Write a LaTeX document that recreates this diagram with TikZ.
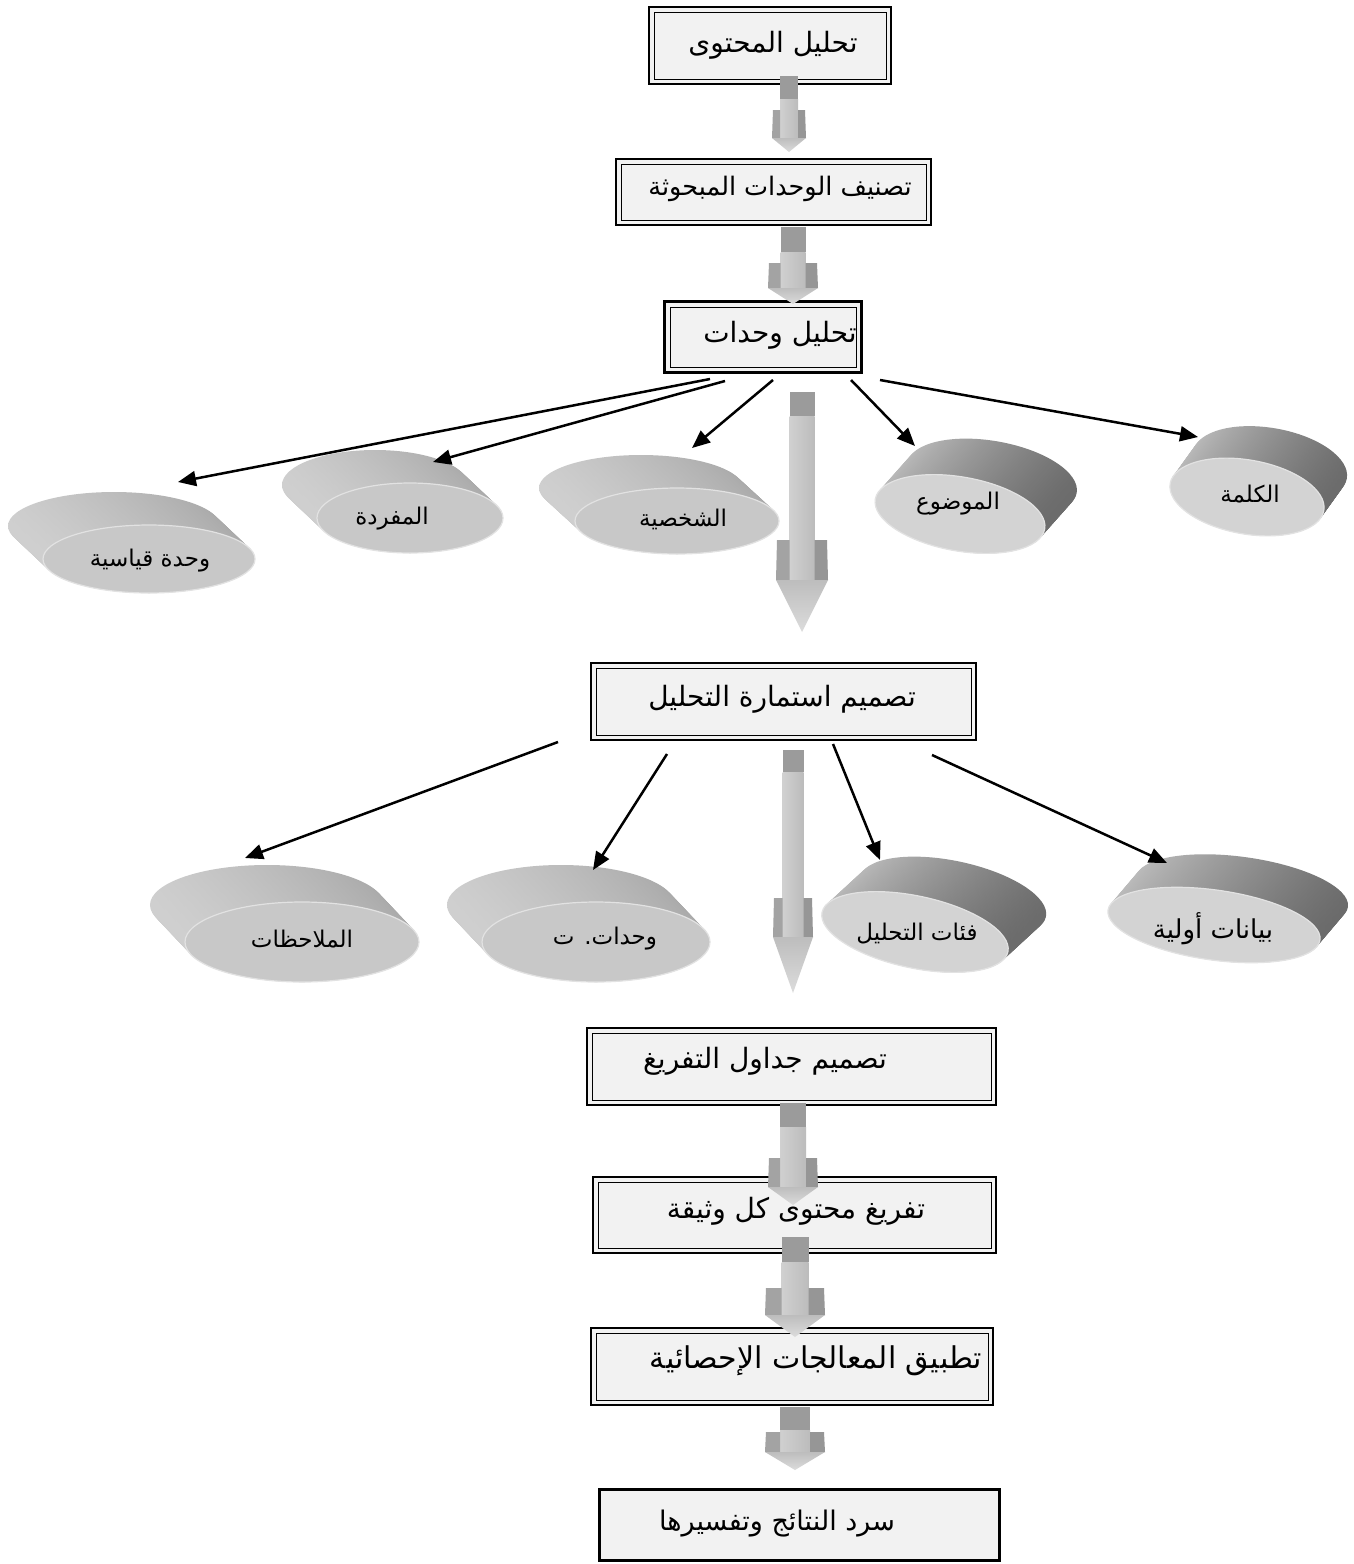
\documentclass[tikz,border=0pt]{standalone}
\usepackage{fontspec}
\newfontfamily\arabicfont[Script=Arabic]{DejaVu Sans}
\TeXXeTstate=1
\usetikzlibrary{arrows.meta,shapes.geometric,calc}

\definecolor{boxfill}{HTML}{F2F2F2}
\definecolor{adark}{HTML}{9B9B9B}
\definecolor{ashaftL}{HTML}{D0D0D0}
\definecolor{ashaftR}{HTML}{BCBCBC}
\definecolor{aflange}{HTML}{A3A3A3}
\definecolor{aheadT}{HTML}{BDBDBD}
\definecolor{aheadB}{HTML}{DCDCDC}
\definecolor{sideLa}{HTML}{CFCFCF}
\definecolor{sideLb}{HTML}{8F8F8F}
\definecolor{sideLc}{HTML}{A9A9A9}
\definecolor{sideRa}{HTML}{BEBEBE}
\definecolor{sideRb}{HTML}{949494}
\definecolor{sideRc}{HTML}{6A6A6A}
\definecolor{faceL}{HTML}{C8C8C8}
\definecolor{faceR}{HTML}{D3D3D3}
\definecolor{facerim}{HTML}{E2E2E2}

\newcommand\ar[1]{\beginR #1\endR}

\tikzset{
  boxframe/.style={draw=black, line width=2.4pt, fill=boxfill, inner sep=0pt, outer sep=0pt},
  boxtxt/.style={font=\arabicfont\fontsize{28}{33}\selectfont, inner sep=0pt},
  disktxt/.style={font=\arabicfont\fontsize{23}{27}\selectfont, inner sep=0pt},
  link/.style={line width=2.5pt, -{Triangle[length=18pt,width=15pt]}},
  leftside/.style={left color=sideLa, middle color=sideLb, right color=sideLc, draw=none},
  rightside/.style={left color=sideRa, middle color=sideRb, right color=sideRc, draw=none},
  leftface/.style={ellipse, fill=faceL, draw=facerim, line width=1.2pt, inner sep=0pt, outer sep=0pt},
  rightface/.style={ellipse, fill=faceR, draw=facerim, line width=1.2pt, inner sep=0pt, outer sep=0pt},
}

% framed step box: name, centre x, centre y (downwards), width, height
\newcommand\frbox[5]{%
  \node[boxframe, minimum width=#4pt, minimum height=#5pt] (#1) at (#2,-#3) {};
  \draw[line width=0.9pt] ([shift={(5,-5)}]#1.north west) rectangle ([shift={(-5,5)}]#1.south east);
}

% tilted disc: name, cx, cy, rx, ry, rotation, back offset x, back offset y, kind (left/right)
\newcommand\disk[9]{%
  \foreach \k in {0,...,32}{
    \pgfmathsetmacro\px{#2+(#7)*(1-\k/32)}
    \pgfmathsetmacro\py{-#3-(#8)*(1-\k/32)}
    \path[#9side, rotate around={#6:(\px,\py)}] (\px,\py) ellipse [x radius=#4pt, y radius=#5pt];
  }
  \node[#9face, minimum width=2*#4pt, minimum height=2*#5pt, rotate=#6] (#1) at (#2,-#3) {};
}

% 3-d block arrow: cx, top, end of dark cap, flange top, head base, tip, half shaft, half head
\newcommand\blockarr[8]{%
  \fill[adark] ({#1-#7},-#2) rectangle ({#1+#7},-#3);
  \path[left color=ashaftL, right color=ashaftR] ({#1-#7},-#3) rectangle ({#1+#7},-#5);
  \fill[aflange] ({#1-#8+1},-#4) -- ({#1-#7},-#4) -- ({#1-#7},-#5) -- ({#1-#8},-#5) -- cycle;
  \fill[aflange!92!black] ({#1+#7},-#4) -- ({#1+#8-1},-#4) -- ({#1+#8},-#5) -- ({#1+#7},-#5) -- cycle;
  \path[top color=aheadT, bottom color=aheadB] ({#1-#8},-#5) -- ({#1+#8},-#5) -- (#1,-#6) -- cycle;
}

\begin{document}
\begin{tikzpicture}[x=1pt,y=1pt]
\fill[white] (0,0) rectangle (1354,-1564);
\useasboundingbox (0,0) rectangle (1354,-1564);

% ---- step boxes ----
\frbox{b1}{770}{45.5}{242}{77}
\frbox{b2}{773.5}{192}{315}{66}
\node[boxframe, line width=3.2pt, minimum width=197pt, minimum height=71pt] (b3) at (763,-337) {};
\draw[line width=0.9pt] ([shift={(5.5,-5.5)}]b3.north west) rectangle ([shift={(-5.5,5.5)}]b3.south east);
\frbox{b4}{783.5}{701.5}{385}{77}
\frbox{b5}{791.5}{1066.5}{409}{77}
\frbox{b6}{794.5}{1215}{403}{76}
\frbox{b7}{792}{1366.5}{402}{77}
\node[boxframe, line width=3pt, minimum width=400pt, minimum height=71pt] (b8) at (799.5,-1525) {};

\node[boxtxt] (t1) at (773,-45) {\ar{تحليل المحتوى}};
\node[boxtxt, font=\arabicfont\fontsize{25.5}{30}\selectfont] (t2) at (780,-189) {\ar{تصنيف الوحدات المبحوثة}};
\node[boxtxt] (t3) at (780,-335) {\ar{تحليل وحدات}};
\node[boxtxt] (t4) at (782,-699) {\ar{تصميم استمارة التحليل}};
\node[boxtxt] (t5) at (765,-1061) {\ar{تصميم جداول التفريغ}};
\node[boxtxt] (t6) at (796,-1211) {\ar{تفريغ محتوى كل وثيقة}};
\node[boxtxt, font=\arabicfont\fontsize{30}{35}\selectfont] (t7) at (816,-1361) {\ar{تطبيق المعالجات الإحصائية}};
\node[boxtxt, font=\arabicfont\fontsize{27}{32}\selectfont] (t8) at (777,-1524) {\ar{سرد النتائج وتفسيرها}};

% ---- block arrows between steps ----
\blockarr{789}{76}{99}{110}{138}{152}{9}{17}
\blockarr{793}{227}{252}{263}{288}{304}{12.5}{25}
\blockarr{802}{392}{416}{540}{580}{632}{12.5}{26}
\blockarr{793}{750}{772}{898}{937}{993}{10.5}{20}
\blockarr{793}{1103}{1127}{1158}{1187}{1205}{13}{25}
\blockarr{795}{1237}{1262}{1288}{1315}{1337}{13.5}{30}
\blockarr{795}{1407}{1430}{1432}{1452}{1470}{15}{30}

% ---- discs, first row ----
\disk{dA}{149}{559}{106}{34}{0}{-35}{-33}{left}
\disk{dB}{410}{518}{93}{35}{0}{-35}{-33}{left}
\disk{dC}{677}{521}{102}{33}{0}{-36}{-33}{left}
\disk{dD}{960}{514}{86}{37}{-10}{32}{-36}{right}
\disk{dE}{1247}{497}{78}{37}{-10}{23}{-32}{right}

\node[disktxt] (lA) at (150,-561) {\ar{وحدة قياسية}};
\node[disktxt] (lB) at (392,-519) {\ar{المفردة}};
\node[disktxt] (lC) at (683,-519) {\ar{الشخصية}};
\node[disktxt] (lD) at (958,-504) {\ar{الموضوع}};
\node[disktxt] (lE) at (1250,-494) {\ar{الكلمة}};

% ---- discs, second row ----
\disk{dF}{302}{942}{117}{40}{0}{-35}{-37}{left}
\disk{dG}{596}{942}{114}{40}{0}{-35}{-37}{left}
\disk{dH}{915}{932}{95}{36}{-12}{38}{-35}{right}
\disk{dI}{1214}{925}{107}{35}{-8}{28}{-33}{right}

\node[disktxt] (lF) at (302,-939) {\ar{الملاحظات}};
\node[disktxt] (lG) at (605,-939) {\ar{وحدات. ت}};
\node[disktxt] (lH) at (917,-934) {\ar{فئات التحليل}};
\node[disktxt, font=\arabicfont\fontsize{26}{30}\selectfont] (lI) at (1213,-929) {\ar{بيانات أولية}};

% ---- connectors ----
\coordinate (s1) at (710,-379);
\coordinate (s2) at (725,-381);
\coordinate (s3) at (773,-380);
\coordinate (s4) at (851,-380);
\coordinate (s5) at (880,-380);
\coordinate (e1) at (178,-482);
\coordinate (e2) at (433,-462);
\coordinate (e3) at (692,-448);
\coordinate (e4) at (915,-446);
\coordinate (e5) at (1198,-437);
\draw[link] (s1) -- (e1);
\draw[link] (s2) -- (e2);
\draw[link] (s3) -- (e3);
\draw[link] (s4) -- (e4);
\draw[link] (s5) -- (e5);

\coordinate (r1) at (558,-742);
\coordinate (r2) at (667,-754);
\coordinate (r3) at (833,-744);
\coordinate (r4) at (932,-755);
\coordinate (f1) at (245,-858);
\coordinate (f2) at (593,-870);
\coordinate (f3) at (880,-860);
\coordinate (f4) at (1167,-863);
\draw[link] (r1) -- (f1);
\draw[link] (r2) -- (f2);
\draw[link] (r3) -- (f3);
\draw[link] (r4) -- (f4);
\end{tikzpicture}
\end{document}
